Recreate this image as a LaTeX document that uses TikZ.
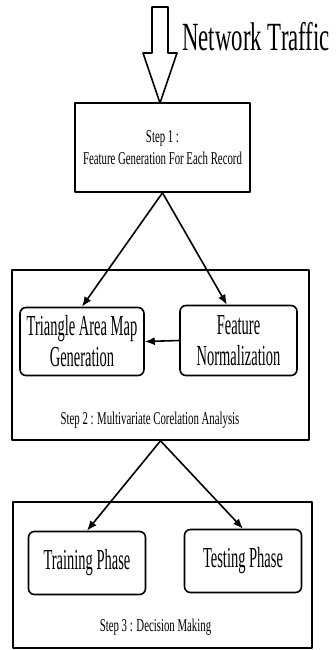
\documentclass[tikz,border=0pt]{standalone}
\usepackage{fontspec}
\setmainfont{Liberation Serif}[FakeStretch=0.6]
\newfontfamily\boxfont{Liberation Serif}[FakeStretch=0.5]
\newfontfamily\titlefont{Liberation Serif}[FakeStretch=0.57]
\usetikzlibrary{arrows.meta}

\begin{document}
\begin{tikzpicture}[x=0.5pt, y=-0.5pt, line cap=round, line join=round,
        outerbox/.style={draw, line width=0.8pt, align=center},
        phasebox/.style={draw, line width=0.8pt, rounded corners=3pt, align=center,
            minimum width=58.5pt, font=\boxfont\fontsize{14.5}{15.5}\selectfont},
        steplabel/.style={font=\fontsize{9}{11}\selectfont, align=center},
        flow/.style={-{Latex[length=5pt,width=4pt]}, line width=0.8pt}]

    \useasboundingbox (0,0) rectangle (336,650);

    % step 1
    \node[outerbox, minimum width=87.5pt, minimum height=44.5pt, font=\fontsize{9}{11}\selectfont]
        (step1) at (162.5,147.5) {Step 1 :\\Feature Generation For Each Record};

    % input arrow
    \coordinate (tip) at (160,103);
    \draw[line width=0.8pt, fill=white] (tip) -- ++(-17,-50) -- ++(9,0) -- ++(0,-46)
        -- ++(16,0) -- ++(0,46) -- ++(9,0) -- cycle;
    \node[anchor=west, inner sep=0, font=\titlefont\fontsize{20}{24}\selectfont] (traffic) at (182,37) {Network Traffic};

    % step 2
    \node[outerbox, minimum width=148.5pt, minimum height=85pt] (step2) at (160.5,355) {};
    \node[phasebox, minimum height=34pt] (tam) at (82,341.5) {Triangle Area Map\\Generation};
    \node[phasebox, minimum height=35pt] (norm) at (238.5,340.5) {Feature\\Normalization};
    \node[steplabel] (step2text) at (150,420) {Step 2 : Multivariate Corelation Analysis};

    % step 3
    \node[outerbox, minimum width=149.5pt, minimum height=73pt] (step3) at (162.5,575) {};
    \node[phasebox, minimum height=31.5pt] (train) at (87,563) {Training Phase};
    \node[phasebox, minimum height=31.5pt] (test) at (243,561) {Testing Phase};
    \node[steplabel] (step3text) at (155.5,627) {Step 3 : Decision Making};

    \draw[flow] (step1.south) -- (tam.north);
    \draw[flow] (step1.south) -- (norm.108);
    \draw[flow] (norm.west) -- (tam.east);
    \draw[flow] (step2.south) -- (train.north);
    \draw[flow] (step2.south) -- (test.north);

\end{tikzpicture}
\end{document}
